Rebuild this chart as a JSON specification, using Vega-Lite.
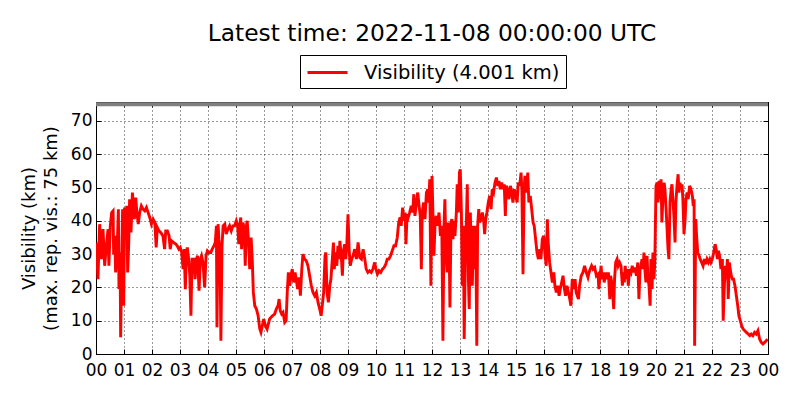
{
  "$schema": "https://vega.github.io/schema/vega-lite/v6.json",
  "autosize": {"type": "none"},
  "width": 672,
  "height": 252,
  "padding": {"left": 96, "top": 102, "right": 32, "bottom": 46},
  "background": "white",
  "title": {
    "text": "Latest time: 2022-11-08 00:00:00 UTC",
    "anchor": "middle",
    "font": "DejaVu Sans",
    "fontSize": 23.3,
    "fontWeight": "normal",
    "color": "black",
    "baseline": "alphabetic",
    "offset": 13,
    "dy": 23
  },
  "datasets": {
    "vis": [
      {"h": 0.01, "v": 33.5}, {"h": 0.07, "v": 22.5}, {"h": 0.13, "v": 39}, {"h": 0.19, "v": 28.5},
      {"h": 0.25, "v": 37.5}, {"h": 0.31, "v": 26.5}, {"h": 0.37, "v": 32.5}, {"h": 0.43, "v": 37.5},
      {"h": 0.46, "v": 26.5}, {"h": 0.51, "v": 38.5}, {"h": 0.56, "v": 42.5}, {"h": 0.61, "v": 43},
      {"h": 0.63, "v": 30}, {"h": 0.67, "v": 35.5}, {"h": 0.70, "v": 24.5}, {"h": 0.75, "v": 30.5},
      {"h": 0.80, "v": 43.5}, {"h": 0.82, "v": 19.5}, {"h": 0.86, "v": 30.5}, {"h": 0.88, "v": 5},
      {"h": 0.92, "v": 28.5}, {"h": 0.95, "v": 43.5}, {"h": 0.99, "v": 14.5}, {"h": 1.02, "v": 44},
      {"h": 1.06, "v": 36.5}, {"h": 1.10, "v": 44.5}, {"h": 1.13, "v": 24.5}, {"h": 1.17, "v": 33.5},
      {"h": 1.20, "v": 46.5}, {"h": 1.25, "v": 36.5}, {"h": 1.30, "v": 48.5}, {"h": 1.33, "v": 45.5},
      {"h": 1.37, "v": 40.5}, {"h": 1.42, "v": 47}, {"h": 1.46, "v": 42.5}, {"h": 1.51, "v": 39},
      {"h": 1.56, "v": 42.5}, {"h": 1.62, "v": 44.5}, {"h": 1.68, "v": 43.5}, {"h": 1.74, "v": 43},
      {"h": 1.80, "v": 44}, {"h": 1.86, "v": 42.5}, {"h": 1.92, "v": 41}, {"h": 1.98, "v": 39},
      {"h": 2.04, "v": 40.5}, {"h": 2.10, "v": 39.5}, {"h": 2.15, "v": 32}, {"h": 2.19, "v": 38},
      {"h": 2.25, "v": 37}, {"h": 2.31, "v": 36.5}, {"h": 2.39, "v": 35.5}, {"h": 2.45, "v": 31.5},
      {"h": 2.49, "v": 37}, {"h": 2.55, "v": 37}, {"h": 2.61, "v": 35.5}, {"h": 2.65, "v": 31.5},
      {"h": 2.70, "v": 34}, {"h": 2.77, "v": 33.5}, {"h": 2.85, "v": 33}, {"h": 2.90, "v": 32.5},
      {"h": 2.96, "v": 31.5}, {"h": 3.01, "v": 32}, {"h": 3.06, "v": 30.5}, {"h": 3.11, "v": 25.5},
      {"h": 3.15, "v": 31.5}, {"h": 3.19, "v": 19.5}, {"h": 3.23, "v": 29.5}, {"h": 3.26, "v": 32},
      {"h": 3.31, "v": 28.5}, {"h": 3.35, "v": 23.5}, {"h": 3.39, "v": 11.5}, {"h": 3.43, "v": 28.5},
      {"h": 3.49, "v": 28.5}, {"h": 3.54, "v": 22.5}, {"h": 3.58, "v": 28.5}, {"h": 3.63, "v": 29.5},
      {"h": 3.68, "v": 19}, {"h": 3.73, "v": 28.5}, {"h": 3.77, "v": 29.5}, {"h": 3.82, "v": 27.5},
      {"h": 3.88, "v": 20}, {"h": 3.93, "v": 29.5}, {"h": 3.98, "v": 31}, {"h": 4.04, "v": 30.5},
      {"h": 4.10, "v": 30.5}, {"h": 4.15, "v": 31.5}, {"h": 4.21, "v": 32.5}, {"h": 4.26, "v": 33.5},
      {"h": 4.30, "v": 38.5}, {"h": 4.32, "v": 8}, {"h": 4.36, "v": 39}, {"h": 4.39, "v": 34.5},
      {"h": 4.43, "v": 30.5}, {"h": 4.46, "v": 4}, {"h": 4.50, "v": 32.5}, {"h": 4.54, "v": 38.5},
      {"h": 4.60, "v": 39}, {"h": 4.65, "v": 36}, {"h": 4.71, "v": 37.5}, {"h": 4.77, "v": 38.5},
      {"h": 4.83, "v": 37}, {"h": 4.89, "v": 38.5}, {"h": 4.95, "v": 38.5}, {"h": 5.01, "v": 40},
      {"h": 5.06, "v": 38.5}, {"h": 5.10, "v": 33}, {"h": 5.13, "v": 38.5}, {"h": 5.17, "v": 41},
      {"h": 5.20, "v": 31.5}, {"h": 5.25, "v": 39.5}, {"h": 5.30, "v": 37}, {"h": 5.33, "v": 26.5},
      {"h": 5.37, "v": 38.5}, {"h": 5.40, "v": 40}, {"h": 5.45, "v": 33.5}, {"h": 5.49, "v": 25.5},
      {"h": 5.54, "v": 35}, {"h": 5.58, "v": 28.5}, {"h": 5.62, "v": 18.5}, {"h": 5.67, "v": 14.5},
      {"h": 5.73, "v": 13.5}, {"h": 5.79, "v": 11.5}, {"h": 5.85, "v": 7.5}, {"h": 5.89, "v": 6.5},
      {"h": 5.94, "v": 8.5}, {"h": 5.99, "v": 10.5}, {"h": 6.05, "v": 8.5}, {"h": 6.11, "v": 7.5},
      {"h": 6.17, "v": 9.5}, {"h": 6.20, "v": 10.5}, {"h": 6.30, "v": 11.5}, {"h": 6.38, "v": 12},
      {"h": 6.44, "v": 13.5}, {"h": 6.50, "v": 14.5}, {"h": 6.54, "v": 16.5}, {"h": 6.58, "v": 13},
      {"h": 6.63, "v": 12}, {"h": 6.68, "v": 12.5}, {"h": 6.74, "v": 9.5}, {"h": 6.79, "v": 10},
      {"h": 6.83, "v": 18.5}, {"h": 6.87, "v": 24.5}, {"h": 6.92, "v": 20.5}, {"h": 6.96, "v": 23.5},
      {"h": 7.01, "v": 25.5}, {"h": 7.06, "v": 21.5}, {"h": 7.11, "v": 24.5}, {"h": 7.15, "v": 22.5},
      {"h": 7.20, "v": 19.5}, {"h": 7.25, "v": 23}, {"h": 7.30, "v": 17.5}, {"h": 7.35, "v": 25.5},
      {"h": 7.39, "v": 30}, {"h": 7.45, "v": 28.5}, {"h": 7.51, "v": 28}, {"h": 7.57, "v": 26.5},
      {"h": 7.63, "v": 23.5}, {"h": 7.69, "v": 20.5}, {"h": 7.75, "v": 18.5}, {"h": 7.81, "v": 17.5},
      {"h": 7.87, "v": 18.5}, {"h": 7.93, "v": 15.5}, {"h": 7.99, "v": 13.5}, {"h": 8.04, "v": 11.5},
      {"h": 8.08, "v": 14.5}, {"h": 8.13, "v": 18.5}, {"h": 8.18, "v": 29.5}, {"h": 8.21, "v": 30.5},
      {"h": 8.25, "v": 18.5}, {"h": 8.30, "v": 15.5}, {"h": 8.35, "v": 20.5}, {"h": 8.39, "v": 22.5},
      {"h": 8.44, "v": 28.5}, {"h": 8.48, "v": 33.5}, {"h": 8.51, "v": 25.5}, {"h": 8.56, "v": 30.5},
      {"h": 8.60, "v": 26.5}, {"h": 8.64, "v": 32.5}, {"h": 8.68, "v": 28.5}, {"h": 8.71, "v": 34},
      {"h": 8.76, "v": 29.5}, {"h": 8.80, "v": 23.5}, {"h": 8.83, "v": 30.5}, {"h": 8.88, "v": 33},
      {"h": 8.92, "v": 28.5}, {"h": 8.96, "v": 33.5}, {"h": 9.00, "v": 42}, {"h": 9.04, "v": 31.5},
      {"h": 9.08, "v": 26.5}, {"h": 9.13, "v": 28.5}, {"h": 9.18, "v": 29.5}, {"h": 9.24, "v": 31.5},
      {"h": 9.30, "v": 28.5}, {"h": 9.36, "v": 33.5}, {"h": 9.42, "v": 29}, {"h": 9.48, "v": 28.5},
      {"h": 9.54, "v": 31.5}, {"h": 9.60, "v": 28.5}, {"h": 9.65, "v": 25.5}, {"h": 9.71, "v": 24.5},
      {"h": 9.77, "v": 25}, {"h": 9.83, "v": 24.5}, {"h": 9.89, "v": 25.5}, {"h": 9.95, "v": 27.5},
      {"h": 10.00, "v": 25.5}, {"h": 10.05, "v": 24}, {"h": 10.11, "v": 25}, {"h": 10.17, "v": 24.5},
      {"h": 10.23, "v": 25.5}, {"h": 10.29, "v": 26}, {"h": 10.35, "v": 27}, {"h": 10.40, "v": 28.5},
      {"h": 10.46, "v": 28.5}, {"h": 10.52, "v": 29.5}, {"h": 10.58, "v": 31}, {"h": 10.64, "v": 32.5},
      {"h": 10.70, "v": 32.5}, {"h": 10.76, "v": 35}, {"h": 10.81, "v": 39.5}, {"h": 10.86, "v": 41},
      {"h": 10.90, "v": 38.5}, {"h": 10.95, "v": 44}, {"h": 10.99, "v": 40}, {"h": 11.04, "v": 42.5},
      {"h": 11.07, "v": 33}, {"h": 11.11, "v": 42}, {"h": 11.15, "v": 41}, {"h": 11.20, "v": 42.5},
      {"h": 11.26, "v": 44.5}, {"h": 11.31, "v": 42.5}, {"h": 11.35, "v": 48}, {"h": 11.39, "v": 41.5},
      {"h": 11.44, "v": 45}, {"h": 11.49, "v": 48.5}, {"h": 11.54, "v": 44.5}, {"h": 11.58, "v": 41.5},
      {"h": 11.62, "v": 25.5}, {"h": 11.65, "v": 42.5}, {"h": 11.70, "v": 45.5}, {"h": 11.75, "v": 40.5},
      {"h": 11.80, "v": 48.5}, {"h": 11.85, "v": 49.5}, {"h": 11.88, "v": 45.5}, {"h": 11.92, "v": 52.5},
      {"h": 11.96, "v": 20.5}, {"h": 12.00, "v": 53.5}, {"h": 12.07, "v": 29.5}, {"h": 12.11, "v": 39.5},
      {"h": 12.15, "v": 41.5}, {"h": 12.20, "v": 38.5}, {"h": 12.25, "v": 42.5}, {"h": 12.30, "v": 35.5},
      {"h": 12.35, "v": 38.5}, {"h": 12.39, "v": 4}, {"h": 12.43, "v": 38.5}, {"h": 12.46, "v": 46.5},
      {"h": 12.50, "v": 30.5}, {"h": 12.54, "v": 24.5}, {"h": 12.57, "v": 39.5}, {"h": 12.61, "v": 34.5},
      {"h": 12.64, "v": 14}, {"h": 12.68, "v": 39.5}, {"h": 12.71, "v": 40.5}, {"h": 12.75, "v": 34.5},
      {"h": 12.79, "v": 40}, {"h": 12.82, "v": 35.5}, {"h": 12.87, "v": 42.5}, {"h": 12.90, "v": 51},
      {"h": 12.94, "v": 42.5}, {"h": 12.98, "v": 54.5}, {"h": 13.01, "v": 55.5}, {"h": 13.05, "v": 42.5},
      {"h": 13.08, "v": 20.5}, {"h": 13.12, "v": 38.5}, {"h": 13.15, "v": 4.5}, {"h": 13.19, "v": 28.5},
      {"h": 13.23, "v": 40.5}, {"h": 13.26, "v": 51}, {"h": 13.30, "v": 22.5}, {"h": 13.33, "v": 13.5},
      {"h": 13.37, "v": 42.5}, {"h": 13.40, "v": 28.5}, {"h": 13.44, "v": 20.5}, {"h": 13.48, "v": 38.5},
      {"h": 13.51, "v": 25.5}, {"h": 13.56, "v": 38.5}, {"h": 13.60, "v": 2.5}, {"h": 13.63, "v": 38.5},
      {"h": 13.67, "v": 43.5}, {"h": 13.70, "v": 39.5}, {"h": 13.75, "v": 40.5}, {"h": 13.80, "v": 42.5},
      {"h": 13.85, "v": 39.5}, {"h": 13.88, "v": 36}, {"h": 13.92, "v": 40.5}, {"h": 13.96, "v": 42.5},
      {"h": 14.01, "v": 45.5}, {"h": 14.06, "v": 47.5}, {"h": 14.11, "v": 43.5}, {"h": 14.15, "v": 49.5},
      {"h": 14.20, "v": 48.5}, {"h": 14.25, "v": 51.5}, {"h": 14.30, "v": 53}, {"h": 14.35, "v": 50.5},
      {"h": 14.39, "v": 52}, {"h": 14.44, "v": 49.5}, {"h": 14.49, "v": 51.5}, {"h": 14.54, "v": 49.5},
      {"h": 14.58, "v": 51}, {"h": 14.62, "v": 41.5}, {"h": 14.65, "v": 50.5}, {"h": 14.70, "v": 49.5},
      {"h": 14.75, "v": 46.5}, {"h": 14.80, "v": 50.5}, {"h": 14.85, "v": 48.5}, {"h": 14.89, "v": 45.5},
      {"h": 14.94, "v": 49.5}, {"h": 14.99, "v": 47.5}, {"h": 15.04, "v": 45.5}, {"h": 15.08, "v": 51.5},
      {"h": 15.13, "v": 50.5}, {"h": 15.18, "v": 54.5}, {"h": 15.21, "v": 49.5}, {"h": 15.25, "v": 24},
      {"h": 15.29, "v": 49.5}, {"h": 15.32, "v": 53.5}, {"h": 15.37, "v": 48.5}, {"h": 15.42, "v": 54.5},
      {"h": 15.46, "v": 45.5}, {"h": 15.51, "v": 47.5}, {"h": 15.56, "v": 43.5}, {"h": 15.61, "v": 39.5},
      {"h": 15.65, "v": 38.5}, {"h": 15.70, "v": 34.5}, {"h": 15.75, "v": 30.5}, {"h": 15.80, "v": 28.5},
      {"h": 15.85, "v": 31.5}, {"h": 15.89, "v": 28.5}, {"h": 15.94, "v": 34.5}, {"h": 15.99, "v": 35.5},
      {"h": 16.04, "v": 29.5}, {"h": 16.08, "v": 26.5}, {"h": 16.12, "v": 40.5}, {"h": 16.15, "v": 33.5},
      {"h": 16.20, "v": 27.5}, {"h": 16.25, "v": 24.5}, {"h": 16.30, "v": 21.5}, {"h": 16.35, "v": 24.5},
      {"h": 16.39, "v": 20.5}, {"h": 16.44, "v": 18.5}, {"h": 16.49, "v": 20.5}, {"h": 16.54, "v": 17.5},
      {"h": 16.58, "v": 19.5}, {"h": 16.63, "v": 21.5}, {"h": 16.68, "v": 23.5}, {"h": 16.73, "v": 19.5},
      {"h": 16.77, "v": 17.5}, {"h": 16.82, "v": 20.5}, {"h": 16.87, "v": 18.5}, {"h": 16.92, "v": 16.5},
      {"h": 16.96, "v": 14.5}, {"h": 17.01, "v": 22.5}, {"h": 17.06, "v": 19.5}, {"h": 17.11, "v": 22.5},
      {"h": 17.15, "v": 18.5}, {"h": 17.23, "v": 16.5}, {"h": 17.27, "v": 20.5}, {"h": 17.33, "v": 23.5},
      {"h": 17.39, "v": 24.5}, {"h": 17.45, "v": 26.5}, {"h": 17.51, "v": 24.5}, {"h": 17.57, "v": 23},
      {"h": 17.61, "v": 24.5}, {"h": 17.65, "v": 25.5}, {"h": 17.70, "v": 26.5}, {"h": 17.75, "v": 25.5},
      {"h": 17.81, "v": 26}, {"h": 17.87, "v": 23.5}, {"h": 17.93, "v": 24}, {"h": 17.96, "v": 19.5},
      {"h": 18.00, "v": 23.5}, {"h": 18.04, "v": 26.5}, {"h": 18.07, "v": 22.5}, {"h": 18.12, "v": 24.5},
      {"h": 18.15, "v": 21.5}, {"h": 18.20, "v": 24.5}, {"h": 18.25, "v": 22.5}, {"h": 18.30, "v": 24.5},
      {"h": 18.35, "v": 16.5}, {"h": 18.38, "v": 23.5}, {"h": 18.42, "v": 21.5}, {"h": 18.45, "v": 18.5},
      {"h": 18.49, "v": 13.5}, {"h": 18.52, "v": 22.5}, {"h": 18.56, "v": 27.5}, {"h": 18.61, "v": 28.5},
      {"h": 18.65, "v": 26.5}, {"h": 18.70, "v": 27.5}, {"h": 18.75, "v": 26.5}, {"h": 18.80, "v": 20.5},
      {"h": 18.83, "v": 24.5}, {"h": 18.87, "v": 21.5}, {"h": 18.90, "v": 26.5}, {"h": 18.94, "v": 22.5},
      {"h": 18.98, "v": 25.5}, {"h": 19.01, "v": 20.5}, {"h": 19.06, "v": 25.5}, {"h": 19.11, "v": 24.5},
      {"h": 19.15, "v": 26.5}, {"h": 19.20, "v": 24.5}, {"h": 19.25, "v": 26}, {"h": 19.30, "v": 23.5},
      {"h": 19.35, "v": 27.5}, {"h": 19.39, "v": 16.5}, {"h": 19.43, "v": 25.5}, {"h": 19.46, "v": 26.5},
      {"h": 19.50, "v": 28.5}, {"h": 19.54, "v": 25.5}, {"h": 19.57, "v": 30.5}, {"h": 19.61, "v": 24.5},
      {"h": 19.64, "v": 21.5}, {"h": 19.68, "v": 29.5}, {"h": 19.71, "v": 23.5}, {"h": 19.75, "v": 20.5},
      {"h": 19.79, "v": 14.5}, {"h": 19.82, "v": 28.5}, {"h": 19.86, "v": 19.5}, {"h": 19.89, "v": 30.5},
      {"h": 19.93, "v": 22.5}, {"h": 19.96, "v": 28.5}, {"h": 20.00, "v": 50.5}, {"h": 20.04, "v": 51.5},
      {"h": 20.07, "v": 45.5}, {"h": 20.11, "v": 52}, {"h": 20.14, "v": 46.5}, {"h": 20.18, "v": 52.5},
      {"h": 20.21, "v": 39.5}, {"h": 20.25, "v": 47.5}, {"h": 20.29, "v": 51.5}, {"h": 20.32, "v": 49.5},
      {"h": 20.36, "v": 43.5}, {"h": 20.39, "v": 38.5}, {"h": 20.43, "v": 31.5}, {"h": 20.46, "v": 28.5},
      {"h": 20.50, "v": 45.5}, {"h": 20.54, "v": 49.5}, {"h": 20.57, "v": 51}, {"h": 20.61, "v": 45.5},
      {"h": 20.64, "v": 41.5}, {"h": 20.68, "v": 33.5}, {"h": 20.71, "v": 45.5}, {"h": 20.75, "v": 50.5},
      {"h": 20.79, "v": 54}, {"h": 20.82, "v": 48.5}, {"h": 20.86, "v": 51.5}, {"h": 20.89, "v": 49.5},
      {"h": 20.93, "v": 51}, {"h": 20.96, "v": 46.5}, {"h": 21.00, "v": 36}, {"h": 21.04, "v": 40.5},
      {"h": 21.07, "v": 46.5}, {"h": 21.11, "v": 48.5}, {"h": 21.15, "v": 46.5}, {"h": 21.20, "v": 50.5},
      {"h": 21.25, "v": 49.5}, {"h": 21.30, "v": 47.5}, {"h": 21.33, "v": 44.5}, {"h": 21.36, "v": 46.5},
      {"h": 21.38, "v": 2.5}, {"h": 21.42, "v": 40.5}, {"h": 21.45, "v": 35.5}, {"h": 21.49, "v": 30.5},
      {"h": 21.54, "v": 29.5}, {"h": 21.58, "v": 28.5}, {"h": 21.63, "v": 27.5}, {"h": 21.68, "v": 26.5},
      {"h": 21.73, "v": 28.5}, {"h": 21.77, "v": 27}, {"h": 21.82, "v": 28.5}, {"h": 21.87, "v": 27.5},
      {"h": 21.92, "v": 28.5}, {"h": 21.96, "v": 27.5}, {"h": 22.01, "v": 28.5}, {"h": 22.06, "v": 30.5},
      {"h": 22.11, "v": 33}, {"h": 22.15, "v": 31.5}, {"h": 22.19, "v": 28.5}, {"h": 22.23, "v": 31},
      {"h": 22.27, "v": 29.5}, {"h": 22.32, "v": 25.5}, {"h": 22.37, "v": 28.5}, {"h": 22.40, "v": 10},
      {"h": 22.44, "v": 20.5}, {"h": 22.48, "v": 26.5}, {"h": 22.51, "v": 22.5}, {"h": 22.55, "v": 28.5},
      {"h": 22.58, "v": 16.5}, {"h": 22.62, "v": 27.5}, {"h": 22.65, "v": 25.5}, {"h": 22.69, "v": 23.5},
      {"h": 22.73, "v": 22.5}, {"h": 22.77, "v": 22.5}, {"h": 22.82, "v": 20.5}, {"h": 22.87, "v": 17.5},
      {"h": 22.92, "v": 14.5}, {"h": 22.96, "v": 11.5}, {"h": 23.01, "v": 10}, {"h": 23.06, "v": 8.5},
      {"h": 23.11, "v": 7.5}, {"h": 23.17, "v": 7}, {"h": 23.23, "v": 6.5}, {"h": 23.29, "v": 6},
      {"h": 23.35, "v": 5.5}, {"h": 23.40, "v": 6}, {"h": 23.46, "v": 5.5}, {"h": 23.52, "v": 6.5},
      {"h": 23.58, "v": 6}, {"h": 23.64, "v": 7}, {"h": 23.70, "v": 4.5}, {"h": 23.76, "v": 3.5},
      {"h": 23.82, "v": 3}, {"h": 23.88, "v": 3.5}, {"h": 23.94, "v": 4}, {"h": 23.98, "v": 4.5}
    ],
    "maxvis": [{"max": 75}]
  },
  "layer": [
    {
      "data": {"name": "vis"},
      "mark": {"type": "line", "stroke": "#ff0000", "strokeWidth": 2.9, "clip": true},
      "encoding": {
        "x": {
          "field": "h",
          "type": "quantitative",
          "scale": {"domain": [0, 24], "nice": false, "zero": false},
          "axis": {
            "orient": "bottom",
            "title": null,
            "values": [0, 1, 2, 3, 4, 5, 6, 7, 8, 9, 10, 11, 12, 13, 14, 15, 16, 17, 18, 19, 20, 21, 22, 23, 24],
            "labelExpr": "(datum.value % 24 < 10 ? '0' : '') + (datum.value % 24)",
            "labelPadding": 13,
            "grid": true
          }
        },
        "y": {
          "field": "v",
          "type": "quantitative",
          "scale": {"domain": [0, 75.7], "nice": false},
          "axis": {
            "orient": "left",
            "title": ["Visibility (km)", "(max. rep. vis.: 75 km)"],
            "titleFontSize": 18,
            "titleLineHeight": 22,
            "titlePadding": 10,
            "values": [0, 10, 20, 30, 40, 50, 60, 70],
            "labelPadding": 9,
            "grid": true
          }
        },
        "color": {
          "datum": "Visibility (4.001 km)",
          "type": "nominal",
          "scale": {"range": ["#ff0000"]},
          "legend": {
            "orient": "none",
            "legendX": 204,
            "legendY": -47,
            "title": null,
            "symbolType": "M-1,0H3",
            "symbolSize": 400,
            "symbolStrokeColor": "#ff0000",
            "symbolFillColor": "transparent",
            "symbolStrokeWidth": 2.9,
            "labelOffset": 35,
            "labelLimit": 400,
            "labelFont": "DejaVu Sans",
            "labelFontSize": 19.5,
            "labelColor": "black",
            "strokeColor": "black",
            "fillColor": "white",
            "padding": 6,
            "cornerRadius": 0
          }
        }
      }
    },
    {
      "data": {"name": "maxvis"},
      "mark": {"type": "rule", "stroke": "#808080", "strokeWidth": 4},
      "encoding": {
        "y": {
          "field": "max",
          "type": "quantitative",
          "axis": {"orient": "right", "title": null, "labels": false, "grid": false,
                   "values": [0, 10, 20, 30, 40, 50, 60, 70]}
        },
        "x": {
          "datum": 0,
          "type": "quantitative",
          "axis": {"orient": "top", "title": null, "labels": false, "grid": false,
                   "values": [0, 1, 2, 3, 4, 5, 6, 7, 8, 9, 10, 11, 12, 13, 14, 15, 16, 17, 18, 19, 20, 21, 22, 23, 24]}
        },
        "x2": {"datum": 24}
      }
    }
  ],
  "resolve": {"axis": {"x": "independent", "y": "independent"}},
  "config": {
    "font": "DejaVu Sans",
    "view": {"stroke": "black", "strokeWidth": 1},
    "axis": {
      "domainColor": "black",
      "domainWidth": 1,
      "tickColor": "black",
      "tickSize": -5,
      "tickWidth": 1,
      "labelFont": "DejaVu Sans",
      "labelFontSize": 17,
      "labelColor": "black",
      "labelFlush": false,
      "labelOverlap": false,
      "gridColor": "black",
      "gridDash": [1, 3],
      "gridWidth": 0.8,
      "gridOpacity": 1,
      "titleFont": "DejaVu Sans",
      "titleFontSize": 17,
      "titleFontWeight": "normal",
      "titleColor": "black",
      "titlePadding": 8
    }
  }
}
